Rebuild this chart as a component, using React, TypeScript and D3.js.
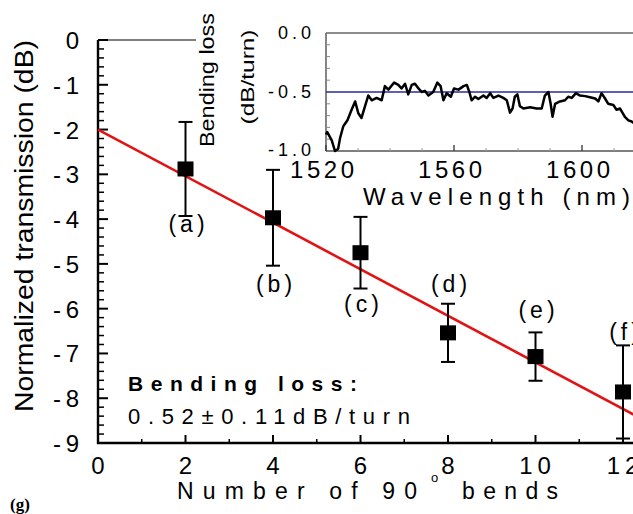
import React from "react";
import * as d3 from "d3";

// Main plot: transmission vs number of 90° bends
const bends = [2, 4, 6, 8, 10, 12];
const transmission = [-2.88, -3.97, -4.75, -6.54, -7.07, -7.86];
const errors = [1.05, 1.07, 0.8, 0.65, 0.54, 1.04];
const pointLabels = ["(a)", "(b)", "(c)", "(d)", "(e)", "(f)"];
const labelLevels = [-4.29, -5.63, -6.08, -5.63, -6.21, -6.7];

// Linear fit: intercept and slope per bend
const fitIntercept = -2;
const fitSlope = -0.52;

const xTicks = [0, 2, 4, 6, 8, 10, 12];
const yTicks = [0, -1, -2, -3, -4, -5, -6, -7, -8, -9];

// Inset: bending loss spectrum
const wavelength = [
  1520, 1520.4, 1521.8, 1522.8, 1523.8, 1524.4, 1525.4, 1526.7, 1528, 1529.1, 1530.1, 1531.1, 1532.2, 1533.2,
  1534.3, 1535.8, 1537.4, 1538.4, 1539.5, 1541.3, 1542.6, 1543.6, 1544.7, 1545.7, 1546.8, 1547.8, 1548.9,
  1549.9, 1550.9, 1552, 1553.5, 1554.8, 1555.8, 1556.7, 1557.7, 1559, 1560, 1561.4, 1563, 1564, 1564.8,
  1565.5, 1566.6, 1567.6, 1569.2, 1570.2, 1571.3, 1572.3, 1573.9, 1575.4, 1576.5, 1577.5, 1578.3, 1579,
  1579.8, 1580.6, 1581.7, 1583.8, 1585.8, 1587.4, 1588.4, 1589.5, 1590.2, 1590.8, 1591.6, 1593.1, 1594.7,
  1595.7, 1596.8, 1598.1, 1599.4, 1601, 1602.5, 1604.1, 1605.1, 1606.1, 1607.2, 1608.2, 1609.8, 1610.8,
  1611.9, 1613.4, 1614.5, 1615.5, 1617,
];
const bendLoss = [
  -0.86, -0.84, -0.91, -1.0, -0.98, -0.89, -0.79, -0.74, -0.65, -0.58, -0.68, -0.72, -0.62, -0.53,
  -0.57, -0.55, -0.57, -0.45, -0.48, -0.42, -0.44, -0.47, -0.43, -0.52, -0.44, -0.43, -0.47,
  -0.5, -0.49, -0.53, -0.5, -0.42, -0.45, -0.57, -0.51, -0.54, -0.47, -0.48, -0.45, -0.44, -0.5,
  -0.57, -0.54, -0.56, -0.53, -0.55, -0.51, -0.55, -0.53, -0.55, -0.57, -0.675, -0.64, -0.54,
  -0.52, -0.62, -0.64, -0.63, -0.64, -0.64, -0.53, -0.5, -0.6, -0.71, -0.6, -0.58, -0.57,
  -0.54, -0.55, -0.51, -0.53, -0.535, -0.545, -0.555, -0.58, -0.51, -0.555, -0.6, -0.61, -0.65,
  -0.64, -0.71, -0.74, -0.75, -0.78,
];
const averageLoss = -0.5;
const insetXTicks = [1520, 1560, 1600];
const insetXMinor = [1530, 1540, 1550, 1570, 1580, 1590, 1610];
const insetYTicks = ["0.0", "-0.5", "-1.0"];
const insetYValues = [0, -0.5, -1];
const insetYMinor = [-0.1, -0.2, -0.3, -0.4, -0.6, -0.7, -0.8, -0.9];

const W = 633;
const H = 514;
const FONT = "'Liberation Sans', Arial, Helvetica, sans-serif";

export default function App() {
  const x = d3.scaleLinear().domain([0, 12]).range([98, 623]);
  const y = d3.scaleLinear().domain([-9, 0]).range([443, 40]);

  const ix = d3.scaleLinear().domain([1520, 1600]).range([326, 582]);
  const iy = d3.scaleLinear().domain([-1, 0]).range([151, 33]);

  const fitLine = d3
    .line<number>()
    .x((b) => x(b))
    .y((b) => y(fitIntercept + fitSlope * b))([0, 12.6]);

  const spectrum = d3
    .line<number>()
    .x((_, i) => ix(wavelength[i]))
    .y((v) => iy(v))
    .curve(d3.curveLinear)(bendLoss);

  const yMinor = d3.range(0, -9.001, -0.2).filter((v) => Math.abs(v - Math.round(v)) > 1e-6);
  const xMinor = [1, 3, 5, 7, 9, 11];

  const sq = 16;

  return (
    <svg
      width={W}
      height={H}
      viewBox={`0 0 ${W} ${H}`}
      style={{ position: "absolute", left: 0, top: 0, background: "#fff" }}
      fontFamily={FONT}
    >
      <rect x={0} y={0} width={W} height={H} fill="#fff" />

      {/* main frame */}
      <line x1={x(0)} y1={y(0)} x2={W} y2={y(0)} stroke="#000" strokeWidth={1.2} />
      <line x1={x(0)} y1={y(0)} x2={x(0)} y2={y(-9) + 1} stroke="#000" strokeWidth={2.4} />
      <line x1={x(0) - 1} y1={y(-9)} x2={W} y2={y(-9)} stroke="#000" strokeWidth={2.4} />

      {/* y ticks */}
      {yTicks.map((t) => (
        <line key={"yt" + t} x1={x(0)} x2={x(0) + 10} y1={y(t)} y2={y(t)} stroke="#000" strokeWidth={2} />
      ))}
      {yMinor.map((t, i) => (
        <line key={"ym" + i} x1={x(0)} x2={x(0) + 6} y1={y(t)} y2={y(t)} stroke="#000" strokeWidth={1.5} />
      ))}
      {yTicks.map((t) => (
        <g key={"yl" + t} fontSize={24} fill="#000">
          {t < 0 && (
            <text x={61} y={y(t) + 9} textAnchor="end">
              -
            </text>
          )}
          <text x={79} y={y(t) + 9} textAnchor="end">
            {Math.abs(t)}
          </text>
        </g>
      ))}

      {/* x ticks */}
      {xTicks.map((t) => (
        <line key={"xt" + t} x1={x(t)} x2={x(t)} y1={y(-9)} y2={y(-9) - 8} stroke="#000" strokeWidth={2} />
      ))}
      {xMinor.map((t) => (
        <line key={"xm" + t} x1={x(t)} x2={x(t)} y1={y(-9)} y2={y(-9) - 4} stroke="#000" strokeWidth={1.5} />
      ))}
      {xTicks.map((t) => (
        <text
          key={"xl" + t}
          x={x(t) + (t >= 10 ? 2 : 0)}
          y={474}
          fontSize={24}
          textAnchor="middle"
          letterSpacing={t >= 10 ? 5 : 0}
        >
          {t}
        </text>
      ))}

      {/* axis titles */}
      <text
        transform={`translate(33,226) rotate(-90)`}
        fontSize={25}
        textAnchor="middle"
        textLength={372}
        lengthAdjust="spacingAndGlyphs"
      >
        Normalized transmission (dB)
      </text>
      <text x={177} y={499} fontSize={23} textLength={240} lengthAdjust="spacing">
        Number of 90
      </text>
      <text x={431} y={482} fontSize={13}>
        o
      </text>
      <text x={462} y={499} fontSize={23} textLength={96} lengthAdjust="spacing">
        bends
      </text>

      {/* fit line */}
      <path d={fitLine ?? ""} fill="none" stroke="#e01414" strokeWidth={2.6} />

      {/* data points with error bars */}
      {bends.map((b, i) => {
        const cx = x(b);
        const top = y(transmission[i] + errors[i]);
        const bot = y(transmission[i] - errors[i]);
        return (
          <g key={"p" + b}>
            <line x1={cx} x2={cx} y1={top} y2={bot} stroke="#000" strokeWidth={2} />
            <line x1={cx - 7} x2={cx + 7} y1={top} y2={top} stroke="#000" strokeWidth={2} />
            <line x1={cx - 7} x2={cx + 7} y1={bot} y2={bot} stroke="#000" strokeWidth={2} />
            <rect x={cx - sq / 2} y={y(transmission[i]) - 7.5} width={sq} height={15} fill="#000" />
            <text
              x={cx + 3}
              y={y(labelLevels[i])}
              fontSize={23}
              textAnchor="middle"
              letterSpacing={4}
            >
              {pointLabels[i]}
            </text>
          </g>
        );
      })}

      {/* fit annotation */}
      <text x={128} y={391} fontSize={21} fontWeight="bold" textLength={229} lengthAdjust="spacing">
        Bending loss:
      </text>
      <text x={128} y={424} fontSize={22} textLength={282} lengthAdjust="spacing">
        0.52±0.11dB/turn
      </text>

      <text x={10} y={510} fontSize={17} fontWeight="bold" fontFamily="'Liberation Serif', 'Times New Roman', serif">
        (g)
      </text>

      {/* inset */}
      <rect x={196} y={0} width={W - 196} height={158} fill="#fff" />
      <text
        transform="translate(214,80) rotate(-90)"
        fontSize={20}
        textAnchor="middle"
        textLength={134}
        lengthAdjust="spacingAndGlyphs"
      >
        Bending loss
      </text>
      <text
        transform="translate(254,77) rotate(-90)"
        fontSize={18}
        textAnchor="middle"
        textLength={95}
        lengthAdjust="spacingAndGlyphs"
      >
        (dB/turn)
      </text>

      <line x1={ix(1520)} x2={W} y1={iy(0)} y2={iy(0)} stroke="#666" strokeWidth={1.6} />
      <line x1={ix(1520)} x2={ix(1520)} y1={iy(0)} y2={iy(-1)} stroke="#666" strokeWidth={1.6} />
      <line x1={ix(1520)} x2={W} y1={iy(-1)} y2={iy(-1)} stroke="#555" strokeWidth={1.6} />

      {insetYMinor.map((v) => (
        <line key={"iym" + v} x1={ix(1520)} x2={ix(1520) + 4} y1={iy(v)} y2={iy(v)} stroke="#888" strokeWidth={1} />
      ))}
      {insetXTicks.map((t) => (
        <line key={"ixt" + t} x1={ix(t)} x2={ix(t)} y1={iy(-1)} y2={iy(-1) - 6} stroke="#333" strokeWidth={1.3} />
      ))}
      {insetXMinor.map((t) => (
        <line key={"ixm" + t} x1={ix(t)} x2={ix(t)} y1={iy(-1)} y2={iy(-1) - 3} stroke="#999" strokeWidth={1} />
      ))}

      <line x1={ix(1520)} x2={W} y1={iy(averageLoss)} y2={iy(averageLoss)} stroke="#2a2a9a" strokeWidth={1.3} />
      <path d={spectrum ?? ""} fill="none" stroke="#000" strokeWidth={2.5} strokeLinejoin="round" />

      {insetYTicks.map((t, i) => (
        <text
          key={"iyl" + t}
          x={311}
          y={iy(insetYValues[i]) + (i === 2 ? 5 : 6)}
          fontSize={18}
          textAnchor="end"
          letterSpacing={4}
          dx={4}
        >
          {t}
        </text>
      ))}
      {insetXTicks.map((t) => (
        <text key={"ixl" + t} x={ix(t) - 4} y={178} fontSize={24} textAnchor="middle" textLength={64} lengthAdjust="spacing">
          {t}
        </text>
      ))}
      <text x={363} y={205} fontSize={24} textLength={267} lengthAdjust="spacing">
        Wavelength (nm)
      </text>
    </svg>
  );
}
